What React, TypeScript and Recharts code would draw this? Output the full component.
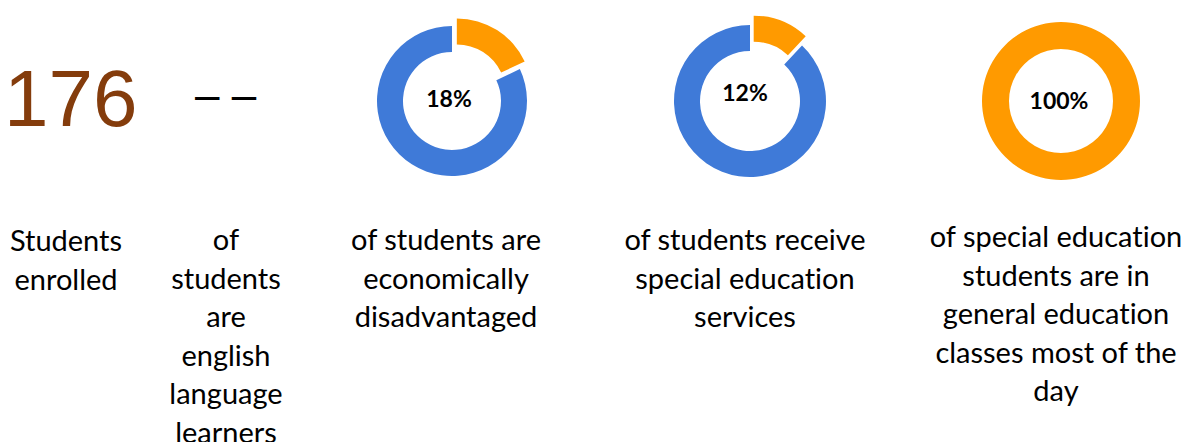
import React from "react";
import { Cell, Pie, PieChart } from "recharts";

// headline figures
const enrolledCount = "176";
const englishLearners = "– –";

// donut values (percent of students)
const sharePercent = [18, 12, 100];
const restPercent = [82, 88, 0];
const donutLabels = ["18%", "12%", "100%"];

// captions under each figure, one entry per line
const captions = [
  ["Students", "enrolled"],
  ["of", "students", "are", "english", "language", "learners"],
  ["of students are", "economically", "disadvantaged"],
  ["of students receive", "special education", "services"],
  [
    "of special education",
    "students are in",
    "general education",
    "classes most of the",
    "day",
  ],
];

const BLUE = "#3f7ad8";
const ORANGE = "#ff9a00";
const TEXT_FONT = "Lato, 'Open Sans', sans-serif";

const donutLayout = [
  { cx: 447, cy: 96, outer: 75, inner: 49, explode: 9, labelX: 449, labelY: 98 },
  { cx: 745, cy: 96, outer: 76, inner: 50, explode: 10, labelX: 745, labelY: 92 },
  { cx: 1056, cy: 96, outer: 79, inner: 52, explode: 0, labelX: 1059, labelY: 100 },
];

const captionLayout = [
  { x: 66, baseline: 252 },
  { x: 226, baseline: 251 },
  { x: 446, baseline: 251 },
  { x: 745, baseline: 251 },
  { x: 1056, baseline: 248 },
];

const SIZE = 200;

function Donut({ index }: { index: number }) {
  const share = sharePercent[index];
  const rest = restPercent[index];
  const lay = donutLayout[index];
  const data = [
    { name: "share", value: share },
    { name: "rest", value: rest },
  ];
  // push the highlighted slice out along its middle angle
  const mid = ((90 - (share / (share + rest)) * 180) * Math.PI) / 180;
  const dx = lay.explode * Math.cos(mid);
  const dy = -lay.explode * Math.sin(mid);
  const c = SIZE / 2;

  return (
    <>
      <div
        style={{
          position: "absolute",
          left: lay.cx - c,
          top: lay.cy - c,
          width: SIZE,
          height: SIZE,
        }}
      >
        <PieChart width={SIZE} height={SIZE}>
          <Pie
            data={data}
            dataKey="value"
            cx={c}
            cy={c}
            innerRadius={lay.inner}
            outerRadius={lay.outer}
            startAngle={90}
            endAngle={-270}
            stroke="none"
            isAnimationActive={false}
          >
            <Cell fill="transparent" />
            <Cell fill={BLUE} />
          </Pie>
          <Pie
            data={data}
            dataKey="value"
            cx={c + dx}
            cy={c + dy}
            innerRadius={lay.inner}
            outerRadius={lay.outer}
            startAngle={90}
            endAngle={-270}
            stroke="none"
            isAnimationActive={false}
          >
            <Cell fill={ORANGE} />
            <Cell fill="transparent" />
          </Pie>
        </PieChart>
      </div>
      <div
        style={{
          position: "absolute",
          left: lay.labelX - 60,
          top: lay.labelY - 15,
          width: 120,
          height: 30,
          lineHeight: "30px",
          textAlign: "center",
          fontFamily: TEXT_FONT,
          fontWeight: 700,
          fontSize: 23,
          color: "#000",
        }}
      >
        {donutLabels[index]}
      </div>
    </>
  );
}

export default function App() {
  return (
    <div
      style={{
        position: "fixed",
        left: 0,
        top: 0,
        width: 1189,
        height: 442,
        background: "#fff",
        overflow: "hidden",
      }}
    >
      <div
        style={{
          position: "absolute",
          left: 4,
          top: 59,
          fontFamily: "'Liberation Sans', Arial, sans-serif",
          fontSize: 80,
          lineHeight: 1,
          color: "#843c0c",
        }}
      >
        {enrolledCount}
      </div>
      <div
        style={{
          position: "absolute",
          left: 195,
          top: 73,
          fontFamily: "'Liberation Sans', Arial, sans-serif",
          fontSize: 44,
          lineHeight: 1,
          color: "#000",
          whiteSpace: "pre",
        }}
      >
        {englishLearners}
      </div>

      {sharePercent.map((_, i) => (
        <Donut key={i} index={i} />
      ))}

      {captions.map((lines, i) => (
        <div
          key={i}
          style={{
            position: "absolute",
            left: captionLayout[i].x - 150,
            top: captionLayout[i].baseline - 31,
            width: 300,
            textAlign: "center",
            fontFamily: TEXT_FONT,
            fontSize: 29,
            lineHeight: "38.5px",
            fontVariantLigatures: "none",
            color: "#000",
          }}
        >
          {lines.map((line, j) => (
            <div key={j} style={{ whiteSpace: "nowrap" }}>
              {line}
            </div>
          ))}
        </div>
      ))}
    </div>
  );
}
